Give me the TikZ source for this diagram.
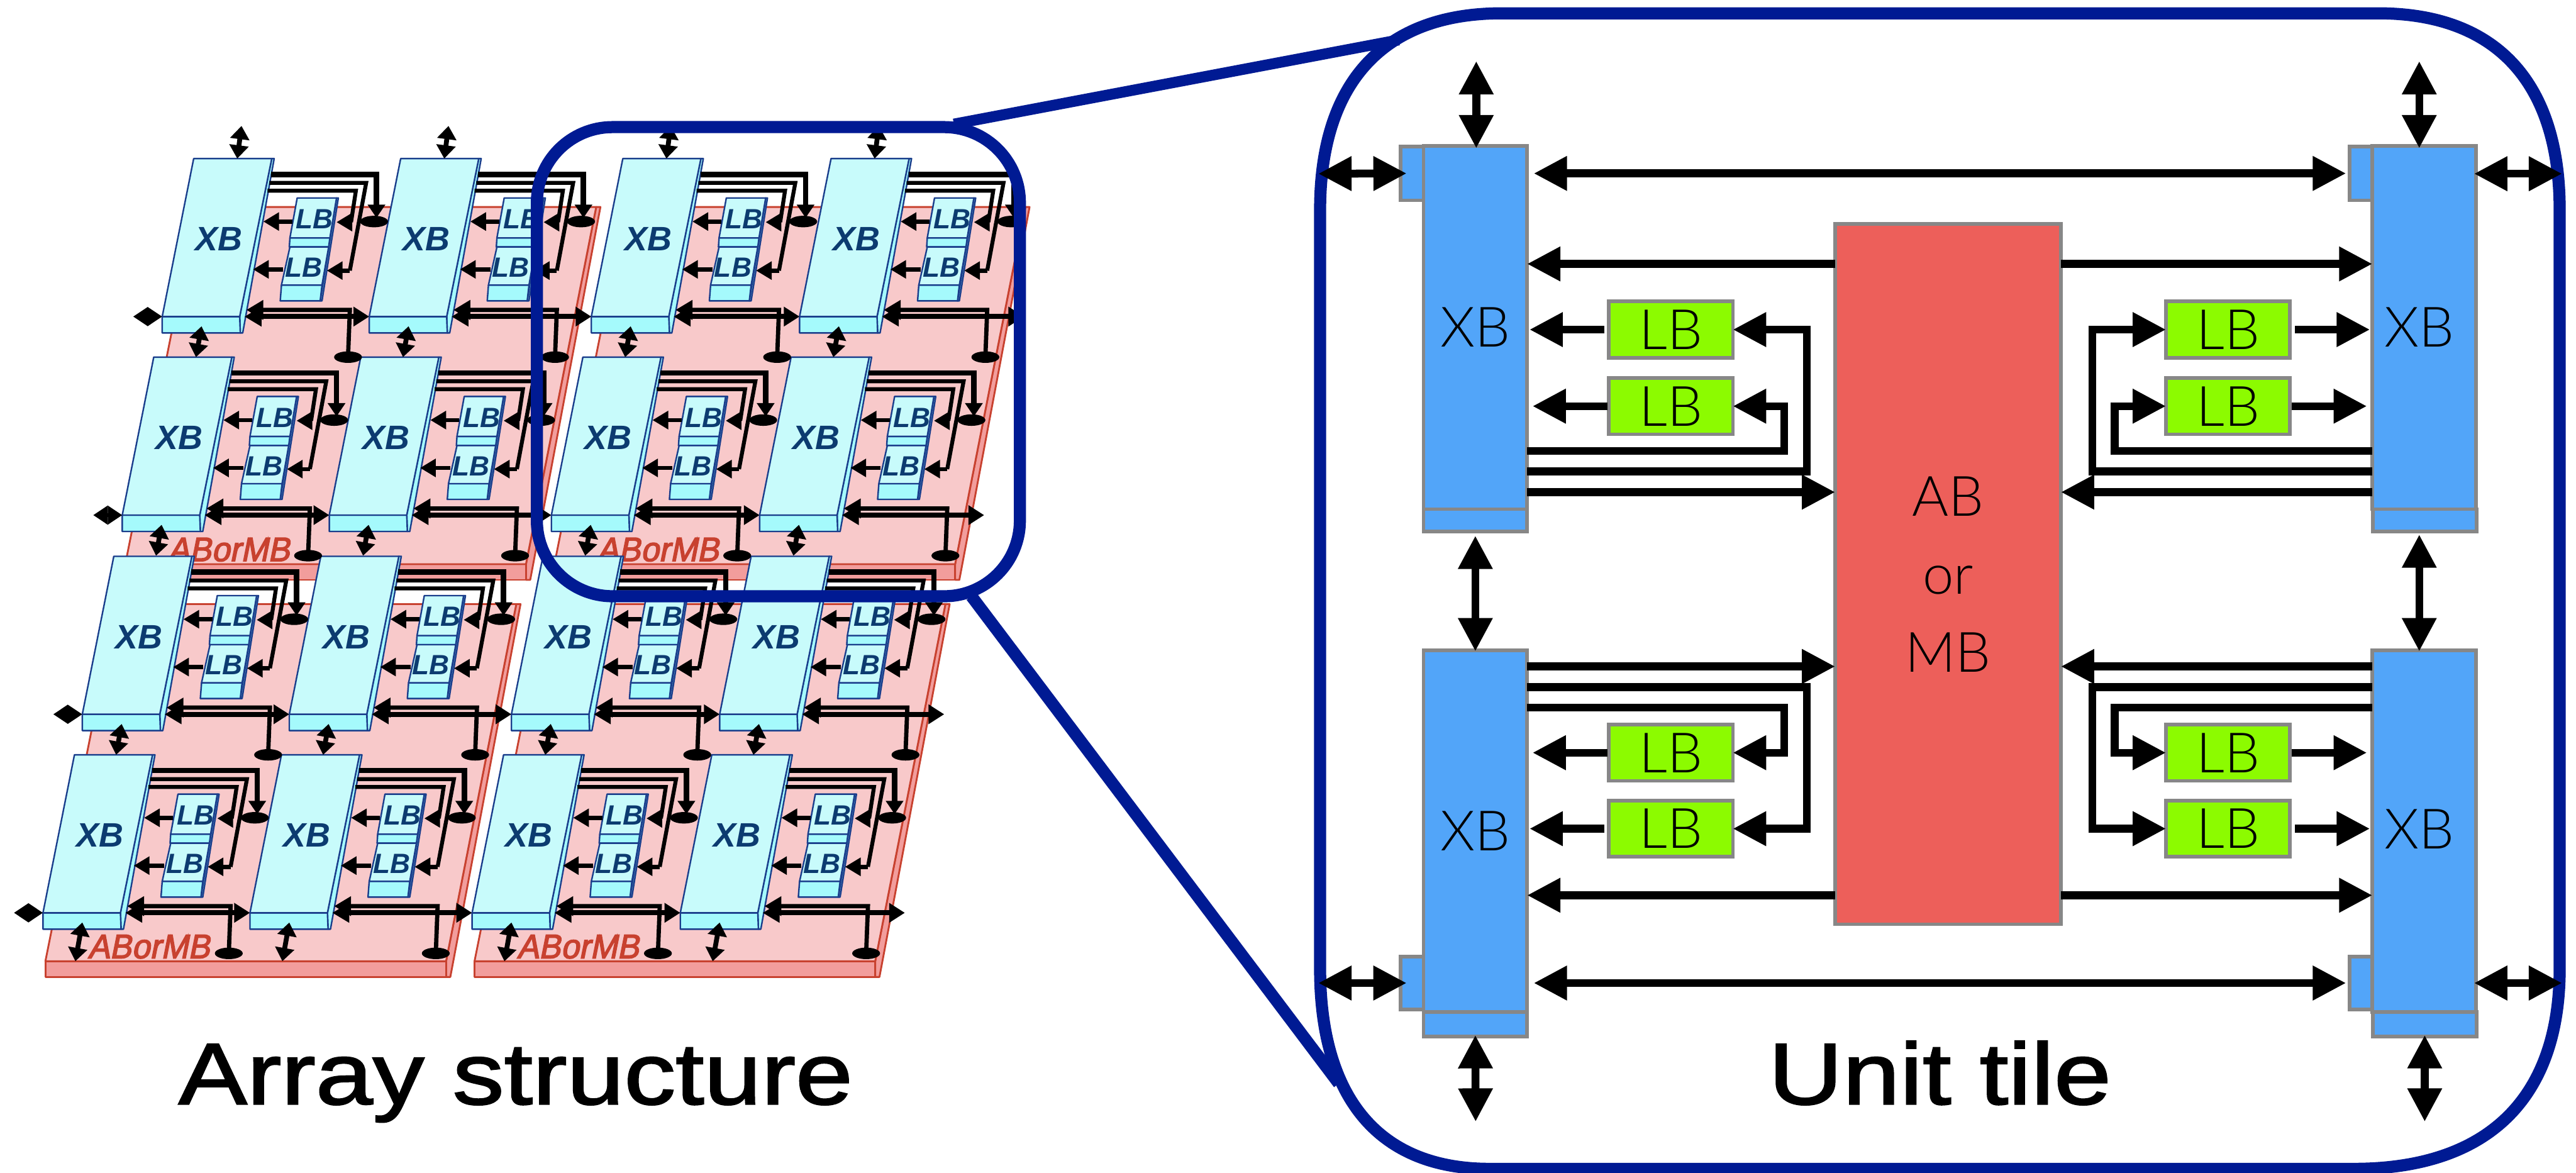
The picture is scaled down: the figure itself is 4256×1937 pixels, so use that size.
\documentclass[tikz,border=0pt]{standalone}
\usepackage{fontspec}
\setmainfont{Open Sans}
\newfontfamily\lightf{Lato Light}
\newfontfamily\arrf{Liberation Sans}
\newfontfamily\redf[FakeBold=3,FakeSlant=0.2,FakeStretch=0.96]{Liberation Sans}
\newfontfamily\titlef[FakeBold=1.8,FakeStretch=1.18]{Liberation Sans}
\usetikzlibrary{arrows.meta,calc,shapes.geometric}
\definecolor{xbtop}{HTML}{C8FBFB}
\definecolor{xbstrip}{HTML}{A5FAFC}
\definecolor{xbedge}{HTML}{1A3E8C}
\definecolor{xbtext}{HTML}{0C3B70}
\definecolor{brdtop}{HTML}{F8C9CA}
\definecolor{brdstrip}{HTML}{F29D9C}
\definecolor{brdedge}{HTML}{C8412F}
\definecolor{framecol}{HTML}{001A93}
\definecolor{panelxb}{HTML}{52A5F9}
\definecolor{panellb}{HTML}{8CFB00}
\definecolor{panelab}{HTML}{ED5F5A}
\definecolor{panelgr}{HTML}{878787}
\tikzset{
 brdface/.style={fill=brdtop,draw=brdedge,line width=3pt,line join=round},
 brdside/.style={fill=brdstrip,draw=brdedge,line width=3pt,line join=round},
 cellface/.style={fill=xbtop,draw=xbedge,line width=2.5pt,line join=round},
 cellside/.style={fill=xbstrip,draw=xbedge,line width=2.5pt,line join=round},
 celltxt/.style={text=xbtext,inner sep=0pt,font=\arrf\bfseries\itshape},
 blob/.style={fill=black,ellipse,minimum width=46pt,minimum height=19pt,inner sep=0pt},
 lt/.style={line width=7pt,-{Triangle[length=26pt,width=29pt]}},
 dv/.style={line width=8pt,{Triangle[length=22pt,width=31pt]}-{Triangle[length=22pt,width=31pt]}},
 dh/.style={line width=8pt,{Triangle[length=28pt,width=31pt]}-{Triangle[length=26pt,width=31pt]}},
 dd/.style={line width=6pt,{Triangle[length=24pt,width=30pt]}-{Triangle[length=24pt,width=30pt]}},
 frameline/.style={draw=framecol,line join=round},
 pblock/.style={draw=panelgr,line width=6pt,inner sep=0pt,outer sep=0pt,text=black},
 pxb/.style={pblock,fill=panelxb,minimum width=171pt},
 plb/.style={pblock,fill=panellb,minimum width=205pt,minimum height=93pt,font=\lightf\fontsize{92}{92}\selectfont},
 ptxt/.style={inner sep=0pt,text=black,font=\lightf\fontsize{92}{92}\selectfont},
 wire/.style={line width=13pt,line join=miter,draw=black},
 pa/.style={line width=13pt,-{Triangle[length=55pt,width=54pt]}},
 pd/.style={line width=13pt,{Triangle[length=55pt,width=54pt]}-{Triangle[length=55pt,width=54pt]}},
 title/.style={inner sep=0pt,anchor=base,text=black,font=\titlef\fontsize{144}{144}\selectfont},
}
\newcommand{\cellbody}[1]{%
 \fill[cellside,draw=xbedge] (129,0)--(133,0)--(81,288)--(77,288)--(76,261)--cycle;
 \path[cellside] (-52,261)--(76,261)--(77,288)--(-52,288)--cycle;
 \path[cellface] (0,0)--(129,0)--(76,261)--(-52,261)--cycle;
 \node[celltxt,font=\arrf\bfseries\itshape\fontsize{56}{56}\selectfont] (XB#1) at (42,133) {XB};
 \path[cellside] (236,65)--(239,65)--(212,235)--(209,235)--cycle;
 \path[cellside] (145,209)--(212,209)--(209,235)--(143,235)--cycle;
 \path[cellside] (159,131)--(225,131)--(223,146)--(158,146)--cycle;
 \path[cellface] (171,65)--(236,65)--(225,131)--(159,131)--cycle;
 \path[cellface] (159,146)--(223,146)--(212,209)--(145,209)--cycle;
 \node[celltxt,font=\arrf\bfseries\itshape\fontsize{46}{46}\selectfont] (LBa#1) at (200,100) {LB};
 \node[celltxt,font=\arrf\bfseries\itshape\fontsize{46}{46}\selectfont] (LBb#1) at (182,180) {LB};
}
\newcommand{\cellwires}[2]{%
 \node[blob] (ea#1) at (298,104) {};
 \node[blob] (eb#1) at (255,328) {};
 \coordinate (wa#1) at (302,26);
 \coordinate (wb#1) at (285,40);
 \coordinate (wc#1) at (268,53);
 \draw[line width=9pt,-{Triangle[length=22pt,width=28pt]},line join=miter] (128,26) -- (wa#1) -- (302,98);
 \draw[line width=6.5pt,line join=miter] (125,40) -- (wb#1) -- (258,185);
 \draw[lt,line join=miter] (258,185) -- (220,185);
 \draw[line width=6.5pt,line join=miter] (122,53) -- (wc#1) -- (260,105);
 \draw[lt,line join=miter] (260,105) -- (236,105);
 \draw[lt] (163,104) -- (115,104);
 \draw[lt] (148,183) -- (98,183);
 \draw[dh] (84,261) -- (#2,261);
 \draw[line width=7pt,line join=miter,{Triangle[length=28pt,width=31pt]}-] (87,250) -- (258,250) -- (eb#1.center);
}
\begin{document}
\begin{tikzpicture}[x=1pt,y=-1pt]
\useasboundingbox (0,0) rectangle (4256,1937);
% boards
\foreach \bn/\bx/\by in {1/0/0,2/709/0,3/-132/656,4/577/656}{
 \begin{scope}[shift={(\bx,\by)}]
  \path[brdside] (985,342)--(992,342)--(876,958)--(869,958)--(869,932)--cycle;
  \path[brdside] (207,932)--(869,932)--(869,958)--(207,958)--cycle;
  \path[brdface] (325,342)--(985,342)--(869,932)--(207,932)--cycle;
  \node[inner sep=0pt,text=brdedge,font=\redf\fontsize{56}{56}\selectfont] (board\bn) at (378,908) {\spaceskip=0.01em AB or MB};
 \end{scope}
}
% cell bodies
\foreach \rw/\ox/\oy in {1/320/262,2/254/590,3/188/919,4/123/1247}{
 \foreach \cl/\cx in {1/0,2/342,3/709,4/1053}{
  \begin{scope}[shift={(\ox+\cx,\oy)}]
   \cellbody{\rw\cl}
  \end{scope}
 }
}
% cell connectors
\foreach \rw/\ox/\oy in {1/320/262,2/254/590,3/188/919,4/123/1247}{
 \foreach \cl/\cx/\tp in {1/0/290,2/342/315,3/709/292,4/1053/319}{
  \begin{scope}[shift={(\ox+\cx,\oy)}]
   \cellwires{\rw\cl}{\tp}
  \end{scope}
 }
}
% vertical arrows
\foreach \rw/\ox/\oy/\by in {1/320/262/328,2/254/590/328,3/188/919/328,4/123/1247/341}{
 \foreach \cl/\cx in {1/0,2/342,3/709,4/1053}{
  \begin{scope}[shift={(\ox+\cx,\oy)}]
   \coordinate (vt\rw\cl) at (13,277);
   \coordinate (vb\rw\cl) at ({13-(\by-277)*0.18},\by);
   \draw[dv] (vt\rw\cl) -- (vb\rw\cl);
  \end{scope}
 }
}
\foreach \cl/\cx in {1/0,2/342,3/709,4/1053}{
 \coordinate (tpa\cl) at (399+\cx,208);
 \coordinate (tpb\cl) at (392+\cx,262);
 \draw[dv] (tpa\cl) -- (tpb\cl);
}
% left edge diamonds
\foreach \rw/\ox/\oy in {1/268/523,2/202/851,3/136/1180,4/71/1508}{
 \coordinate (da\rw) at (\ox-48,\oy);
 \coordinate (db\rw) at (\ox,\oy);
 \draw[dd] (da\rw) -- (db\rw);
}
% zoom frame and zoom lines
\draw[frameline,line width=20pt,rounded corners=125pt] (887,210) rectangle (1685,985);
\coordinate (za) at (1576,205);
\coordinate (zb) at (2311,66);
\coordinate (zc) at (1605,985);
\coordinate (zd) at (2212,1790);
\draw[frameline,line width=18pt] (za) -- (zb);
\draw[frameline,line width=20pt] (zc) -- (zd);
% unit tile frame
\draw[frameline,line width=20pt]
  (2181,347) .. controls (2181,136) and (2286,22) .. (2481,22)
  -- (3929,22) .. controls (4124,22) and (4229,136) .. (4229,347)
  -- (4229,1600) .. controls (4229,1815) and (4110,1931) .. (3889,1931)
  -- (2461,1931) .. controls (2279,1931) and (2181,1815) .. (2181,1600) -- cycle;
% unit tile blocks
\node[pblock,fill=panelxb,minimum width=38pt,minimum height=89pt] (tabA) at (2333,286.5) {};
\node[pblock,fill=panelxb,minimum width=38pt,minimum height=89pt] (tabB) at (3901,286.5) {};
\node[pblock,fill=panelxb,minimum width=38pt,minimum height=88pt] (tabC) at (2333,1624) {};
\node[pblock,fill=panelxb,minimum width=38pt,minimum height=88pt] (tabD) at (3901,1624) {};
\node[pxb,minimum height=37pt] (stA) at (2437.5,859.5) {};
\node[pxb,minimum height=37pt] (stB) at (4006,859.5) {};
\node[pxb,minimum height=40pt] (stC) at (2437.5,1692) {};
\node[pxb,minimum height=40pt] (stD) at (4006,1692) {};
\node[pxb,minimum height=600pt,font=\lightf\fontsize{92}{92}\selectfont] (xbA) at (2437.5,541) {XB};
\node[pxb,minimum height=600pt] (xbB) at (4005,541) {};
\node[pxb,minimum height=598pt,font=\lightf\fontsize{92}{92}\selectfont] (xbC) at (2437.5,1373) {XB};
\node[pxb,minimum height=598pt] (xbD) at (4005,1373) {};
\node[ptxt] (xbBt) at (3997,541) {XB};
\node[ptxt] (xbDt) at (3997,1370) {XB};
\node[plb] (lbA) at (2760.5,544.5) {LB};
\node[plb] (lbB) at (2760.5,671) {LB};
\node[plb] (lbC) at (2760.5,1243.5) {LB};
\node[plb] (lbD) at (2760.5,1369) {LB};
\node[plb] (lbE) at (3681,544.5) {LB};
\node[plb] (lbF) at (3681,671) {LB};
\node[plb] (lbG) at (3681,1243.5) {LB};
\node[plb] (lbH) at (3681,1369) {LB};
\node[pblock,fill=panelab,minimum width=373pt,minimum height=1157pt,align=center,font=\lightf\fontsize{92}{129}\selectfont] (ab) at (3218.5,948.5) {AB\\or\\MB};
% rails
\coordinate (railA) at (2948,745);
\coordinate (railB) at (2985,779);
\coordinate (railC) at (3036,813);
\coordinate (railD) at (3494,745);
\coordinate (railE) at (3457,779);
\coordinate (railF) at (3405,813);
\coordinate (railG) at (2948,1169);
\coordinate (railH) at (2985,1135);
\coordinate (railI) at (3036,1101);
\coordinate (railJ) at (3494,1169);
\coordinate (railK) at (3457,1135);
\coordinate (railL) at (3405,1101);
\draw[wire,pa] (xbA.east |- railA) -- (railA) -- (railA |- lbB.east) -- (lbB.east);
\draw[wire,pa] (xbA.east |- railB) -- (railB) -- (railB |- lbA.east) -- (lbA.east);
\draw[wire,pa] (xbA.east |- railC) -- (ab.west |- railC);
\draw[wire,pa] (xbB.west |- railD) -- (railD) -- (railD |- lbF.west) -- (lbF.west);
\draw[wire,pa] (xbB.west |- railE) -- (railE) -- (railE |- lbE.west) -- (lbE.west);
\draw[wire,pa] (xbB.west |- railF) -- (ab.east |- railF);
\draw[wire,pa] (xbC.east |- railG) -- (railG) -- (railG |- lbC.east) -- (lbC.east);
\draw[wire,pa] (xbC.east |- railH) -- (railH) -- (railH |- lbD.east) -- (lbD.east);
\draw[wire,pa] (xbC.east |- railI) -- (ab.west |- railI);
\draw[wire,pa] (xbD.west |- railJ) -- (railJ) -- (railJ |- lbG.west) -- (lbG.west);
\draw[wire,pa] (xbD.west |- railK) -- (railK) -- (railK |- lbH.west) -- (lbH.west);
\draw[wire,pa] (xbD.west |- railL) -- (ab.east |- railL);
% block outputs
\draw[pa] ([xshift=-7pt]lbA.west) -- ([xshift=4pt]xbA.east |- lbA.west);
\draw[pa] ([xshift=-2pt]lbB.west) -- ([xshift=9pt]xbA.east |- lbB.west);
\draw[pa] ([xshift=-2pt]lbC.west) -- ([xshift=9pt]xbC.east |- lbC.west);
\draw[pa] ([xshift=-7pt]lbD.west) -- ([xshift=4pt]xbC.east |- lbD.west);
\draw[pa] ([xshift=8pt]lbE.east) -- ([xshift=-4pt]xbB.west |- lbE.east);
\draw[pa] ([xshift=3pt]lbF.east) -- ([xshift=-9pt]xbB.west |- lbF.east);
\draw[pa] ([xshift=3pt]lbG.east) -- ([xshift=-9pt]xbD.west |- lbG.east);
\draw[pa] ([xshift=8pt]lbH.east) -- ([xshift=-4pt]xbD.west |- lbH.east);
% AB to XB
\coordinate (abA) at (3032,436);
\coordinate (abB) at (3405,436);
\coordinate (abC) at (3032,1479);
\coordinate (abD) at (3405,1479);
\draw[pa] (abA) -- (xbA.east |- abA);
\draw[pa] (abB) -- (xbB.west |- abB);
\draw[pa] (abC) -- (xbC.east |- abC);
\draw[pa] (abD) -- (xbD.west |- abD);
% long buses
\draw[pd] ([xshift=11pt]xbA.east |- tabA.west) -- ([xshift=-6pt]tabB.west);
\draw[pd] ([xshift=11pt]xbC.east |- tabC.west) -- ([xshift=-6pt]tabD.west);
% outward horizontal
\coordinate (oA) at (2178,287);
\coordinate (oB) at (4233,287);
\coordinate (oC) at (2178,1624);
\coordinate (oD) at (4233,1624);
\draw[pd] (oA) -- ([xshift=10pt]tabA.west);
\draw[pd] (oC) -- ([xshift=10pt]tabC.west);
\draw[pd] ([xshift=-3pt]xbB.east |- oB) -- (oB);
\draw[pd] ([xshift=-3pt]xbD.east |- oD) -- (oD);
% vertical arrows of the unit tile
\coordinate (vA) at (2439,101);
\coordinate (vB) at (3997,101);
\coordinate (vC) at (2438,1853);
\coordinate (vD) at (4006,1853);
\draw[pd] (vA) -- ([yshift=-4pt]vA |- xbA.north);
\draw[pd] (vB) -- ([yshift=-4pt]vB |- xbB.north);
\draw[pd] ([yshift=-7pt]stA.south) -- ([yshift=-2pt]stA.south |- xbC.north);
\draw[pd] ([yshift=-5pt]vB |- stB.south) -- ([yshift=-2pt]vB |- xbD.north);
\draw[pd] ([yshift=2pt]stC.south) -- (vC);
\draw[pd] ([yshift=2pt]stD.south) -- (vD);
% titles
\node[title] (tA) at (852,1824) {Array structure};
\node[title] (tB) at (3205,1824) {Unit tile};
\end{tikzpicture}
\end{document}
